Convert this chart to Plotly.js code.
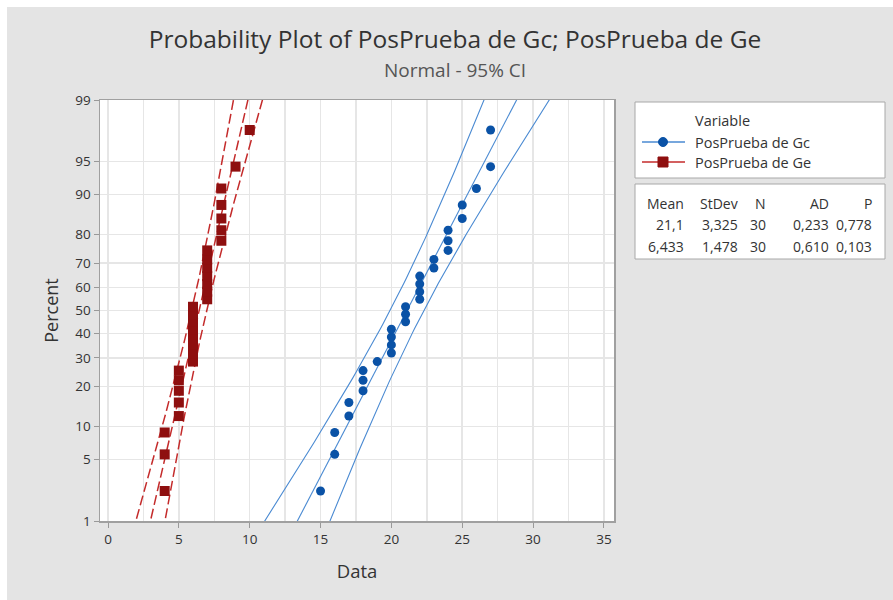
<!DOCTYPE html>
<html>
<head>
<meta charset="utf-8">
<script src="https://cdn.plot.ly/plotly-3.0.1.min.js"></script>
<style>html,body{margin:0;padding:0;background:#fff;}#chart{width:893px;height:600px;}</style>
</head>
<body>
<div id="chart"></div>
<script>
// ---- data (sorted values) ----
const gcValues = [15,16,16,17,17,18,18,18,19,20,20,20,20,21,21,21,22,22,22,22,23,23,24,24,24,25,25,26,27,27];
const geValues = [4,4,4,5,5,5,5,5,6,6,6,6,6,6,6,6,7,7,7,7,7,7,7,8,8,8,8,8,9,10];
const seriesNames = ["PosPrueba de Gc", "PosPrueba de Ge"];
const percentTicks = [1,5,10,20,30,40,50,60,70,80,90,95,99];
const xTicks = [0,5,10,15,20,25,30,35];
const statHeaders = ["Mean","StDev","N","AD","P"];
const statRowGc = ["21,1","3,325","30","0,233","0,778"];
const statRowGe = ["6,433","1,478","30","0,610","0,103"];

// inverse standard normal CDF (Acklam)
function ppf(p){
  const a=[-3.969683028665376e+01,2.209460984245205e+02,-2.759285104469687e+02,1.383577518672690e+02,-3.066479806614716e+01,2.506628277459239e+00];
  const b=[-5.447609879822406e+01,1.615858368580409e+02,-1.556989798598866e+02,6.680131188771972e+01,-1.328068155288572e+01];
  const c=[-7.784894002430293e-03,-3.223964580411365e-01,-2.400758277161838e+00,-2.549732539343734e+00,4.374664141464968e+00,2.938163982698783e+00];
  const d=[7.784695709041462e-03,3.224671290700398e-01,2.445134137142996e+00,3.754408661907416e+00];
  const pl=0.02425, ph=1-pl; let q,r;
  if(p<pl){q=Math.sqrt(-2*Math.log(p));return (((((c[0]*q+c[1])*q+c[2])*q+c[3])*q+c[4])*q+c[5])/((((d[0]*q+d[1])*q+d[2])*q+d[3])*q+1);}
  if(p<=ph){q=p-0.5;r=q*q;return (((((a[0]*r+a[1])*r+a[2])*r+a[3])*r+a[4])*r+a[5])*q/(((((b[0]*r+b[1])*r+b[2])*r+b[3])*r+b[4])*r+1);}
  q=Math.sqrt(-2*Math.log(1-p));return -(((((c[0]*q+c[1])*q+c[2])*q+c[3])*q+c[4])*q+c[5])/((((d[0]*q+d[1])*q+d[2])*q+d[3])*q+1);
}
function stats(v){const n=v.length;const m=v.reduce((s,x)=>s+x,0)/n;const sd=Math.sqrt(v.reduce((s,x)=>s+(x-m)*(x-m),0)/(n-1));return {n,m,sd};}
function plotPos(v){const n=v.length;return v.map((_,i)=>ppf((i+1-0.3)/(n+0.4)));}
function fitLines(v){
  const {n,m,sd}=stats(v);
  const zs=[];for(let z=-2.6;z<=2.6001;z+=0.05)zs.push(z);
  const mid=zs.map(z=>m+sd*z);
  const half=zs.map(z=>1.96*sd*Math.sqrt(1/n+z*z/(2*n)));
  return {zs,mid,lo:mid.map((x,i)=>x-half[i]),hi:mid.map((x,i)=>x+half[i])};
}

const blueM="#0a52a6", blueL="#4a8ad2", redM="#8e0f0f", redL="#c42b2b";
const traces=[];
function addSeries(vals,mc,lc,sym,size,dash,lw){
  const f=fitLines(vals);
  [f.lo,f.mid,f.hi].forEach(xs=>traces.push({x:xs,y:f.zs,type:"scatter",mode:"lines",line:{color:lc,width:lw,dash:dash},hoverinfo:"skip",showlegend:false}));
  traces.push({x:vals,y:plotPos(vals),type:"scatter",mode:"markers",marker:{color:mc,symbol:sym,size:size},showlegend:false});
}
addSeries(gcValues,blueM,blueL,"circle",9,"solid",1.1);
addSeries(geValues,redM,redL,"square",10,"10px,4px",1.5);

// pixel -> paper helpers (plot area: x 100..614, y 100..521)
const L=100,R=614,T=100,B=521;
const px=x=>(x-L)/(R-L), py=y=>(B-y)/(B-T);
const font="Open Sans, Noto Sans, sans-serif";
const shapes=[
  {type:"rect",xref:"paper",yref:"paper",x0:px(0),x1:px(7),y0:py(600),y1:py(0),fillcolor:"#fff",line:{width:0},layer:"below"},
  {type:"rect",xref:"paper",yref:"paper",x0:px(0),x1:px(893),y0:py(7),y1:py(0),fillcolor:"#fff",line:{width:0},layer:"below"},
  {type:"rect",xref:"paper",yref:"paper",x0:px(635),x1:px(885),y0:py(178),y1:py(102),fillcolor:"#fff",line:{color:"#a8a8a8",width:1}},
  {type:"rect",xref:"paper",yref:"paper",x0:px(635),x1:px(885),y0:py(259),y1:py(184),fillcolor:"#fff",line:{color:"#a8a8a8",width:1}},
  {type:"line",xref:"paper",yref:"paper",x0:px(642),x1:px(685),y0:py(142),y1:py(142),line:{color:blueL,width:1.3}},
  {type:"circle",xref:"paper",yref:"paper",x0:px(658.5),x1:px(667.5),y0:py(146.5),y1:py(137.5),fillcolor:blueM,line:{color:blueM,width:1}},
  {type:"line",xref:"paper",yref:"paper",x0:px(642),x1:px(685),y0:py(162),y1:py(162),line:{color:redL,width:1.3}},
  {type:"rect",xref:"paper",yref:"paper",x0:px(658),x1:px(668),y0:py(167),y1:py(157),fillcolor:redM,line:{color:redM,width:1}}
];
function note(text,x,y,size,color,xa){return {text,x:px(x),y:py(y),xref:"paper",yref:"paper",xanchor:xa||"left",yanchor:"middle",showarrow:false,font:{family:font,size,color}};}
const ann=[
  note("Normal - 95% CI",455,70,19,"#555","center"),
  note("Variable",693,120,14.5,"#333"),
  note(seriesNames[0],693,142,14.5,"#333"),
  note(seriesNames[1],693,162,14.5,"#333")
];
const colRight=[686,740,768,831,874];
const rowY=[203,224,246];
[statHeaders,statRowGc,statRowGe].forEach((row,ri)=>{
  row.forEach((t,ci)=>ann.push(note(t,colRight[ci],rowY[ri],14,"#333","right")));
});

const layout={
  width:893,height:600,
  paper_bgcolor:"#e4e4e4",plot_bgcolor:"#fff",
  margin:{l:L,r:893-R,t:T,b:600-B},
  title:{text:"Probability Plot of PosPrueba de Gc; PosPrueba de Ge",x:455/893,xanchor:"center",y:1-39/600,yanchor:"middle",font:{family:font,size:24.5,color:"#333"}},
  xaxis:{range:[-0.5645,35.71],tickvals:xTicks,ticktext:xTicks.map(String),ticks:"outside",ticklen:5,tickcolor:"#999",
    showgrid:true,gridcolor:"#e6e6e6",gridwidth:1.5,zeroline:false,showline:true,linecolor:"#a0a0a0",linewidth:1.5,mirror:true,
    minor:{dtick:2.5,tick0:0,showgrid:true,gridcolor:"#e6e6e6",gridwidth:1.5,ticks:""},
    tickfont:{family:font,size:13.5,color:"#333"},
    title:{text:"Data",font:{family:font,size:18.5,color:"#333"},standoff:18}},
  yaxis:{range:[ppf(0.01),ppf(0.99)],tickvals:percentTicks.map(p=>ppf(p/100)),ticktext:percentTicks.map(String),ticks:"outside",ticklen:5,tickcolor:"#999",
    showgrid:true,gridcolor:"#e6e6e6",gridwidth:1.5,zeroline:false,showline:true,linecolor:"#a0a0a0",linewidth:1.5,mirror:true,
    tickfont:{family:font,size:13.5,color:"#333"},
    title:{text:"Percent",font:{family:font,size:18,color:"#333"},standoff:12}},
  showlegend:false,
  shapes:shapes,annotations:ann
};
Plotly.newPlot("chart",traces,layout,{displayModeBar:false,staticPlot:true});
</script>
</body>
</html>
